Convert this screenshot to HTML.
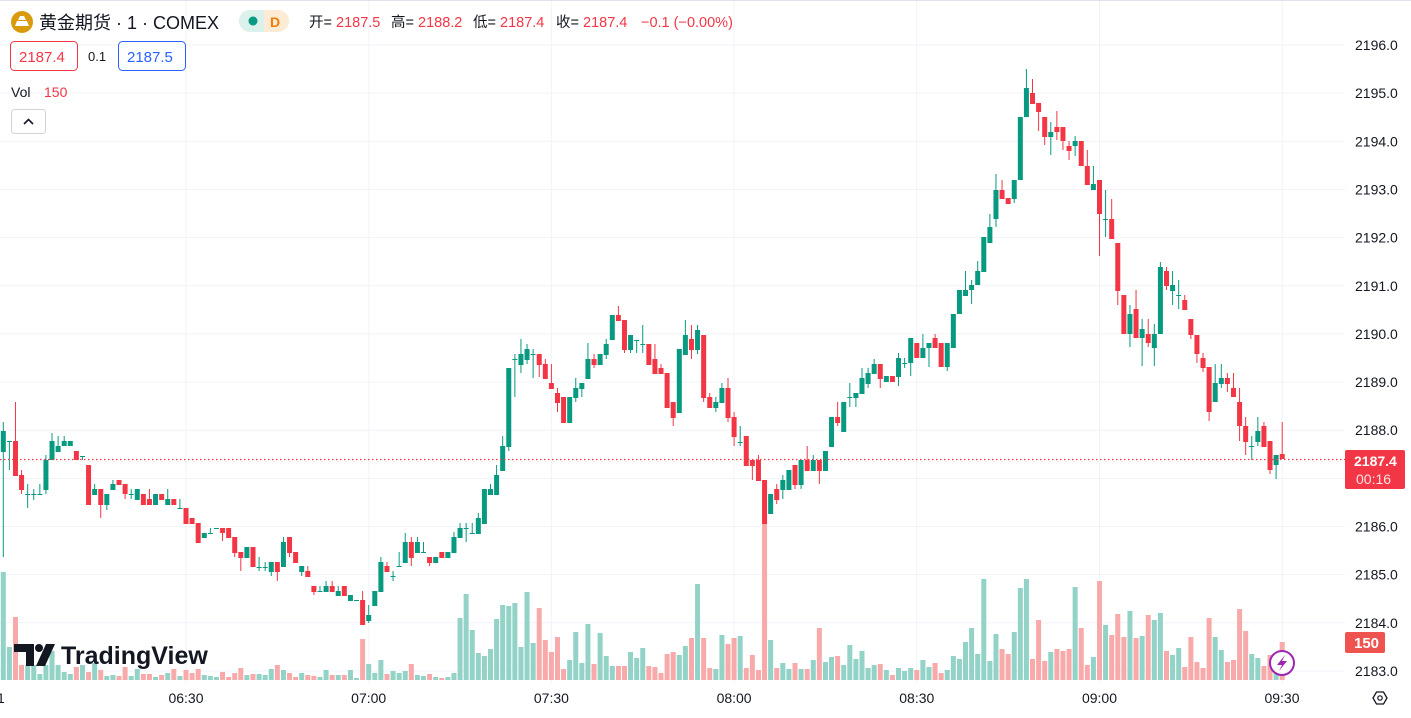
<!DOCTYPE html>
<html><head><meta charset="utf-8"><style>
html,body{margin:0;padding:0;background:#fff;}
body{width:1411px;height:718px;overflow:hidden;position:relative;font-family:"Liberation Sans","Noto Sans CJK SC",sans-serif;}
svg{position:absolute;left:0;top:0;}
.t{font-family:"Liberation Sans","Noto Sans CJK SC",sans-serif;}
</style></head><body>
<svg id="c" width="1411" height="718" xmlns="http://www.w3.org/2000/svg"></svg>
<script>
const D=[
[452,431,422,557],[441,441,441,470],[441,476,402,476],[475,490,470,494],[494,494,484,508],[494,494,489,500],[494,494,484,494],[490,460,455,494],[460,441,433,460],[452,446,436,452],
[446,441,436,446],[446,441,441,446],[451,460,451,460],[456,456,456,460],[465,505,465,505],[495,489,484,495],[489,505,489,518],[505,494,494,510],[490,484,480,490],[480,485,480,485],
[484,494,484,499],[494,494,489,499],[500,489,489,500],[494,505,494,505],[499,505,489,505],[505,494,494,505],[494,500,494,500],[505,499,489,505],[499,505,499,505],[508,508,499,508],
[508,524,508,524],[518,524,518,524],[523,543,523,543],[538,533,533,538],[533,533,528,533],[528,528,528,528],[528,533,528,541],[528,538,528,538],[537,553,537,557],[552,558,552,571],
[558,547,547,558],[547,567,547,567],[567,567,557,571],[567,567,562,571],[572,562,562,576],[562,572,562,581],[567,542,537,567],[537,553,537,557],[552,563,552,563],[572,566,566,576],
[571,577,566,577],[586,592,586,595],[591,591,586,591],[592,586,581,592],[586,592,581,592],[596,591,586,596],[586,596,586,596],[601,595,595,601],[600,600,600,600],[600,625,591,625],
[621,615,605,623],[606,591,591,606],[592,562,557,592],[566,572,562,572],[576,576,571,581],[566,566,552,566],[563,542,533,563],[542,558,537,566],[553,542,537,553],[552,552,542,552],
[557,563,557,566],[563,557,557,563],[552,558,552,558],[558,552,552,558],[553,537,532,553],[538,528,523,538],[528,528,523,542],[533,533,523,533],[534,518,513,534],[524,489,489,524],
[495,489,484,495],[495,475,465,495],[471,446,436,471],[447,368,368,451],[359,359,354,397],[365,354,339,373],[360,349,344,364],[354,354,349,378],[354,365,354,377],[364,379,359,379],
[383,389,364,389],[393,403,388,412],[397,423,397,423],[423,397,397,423],[398,388,378,402],[389,383,383,397],[379,359,343,379],[359,365,354,368],[365,354,354,365],[355,344,339,359],
[340,315,315,340],[315,321,306,321],[320,350,320,353],[350,335,335,353],[340,340,340,353],[344,344,325,353],[344,365,344,365],[359,374,344,374],[368,374,364,374],[373,408,373,408],
[402,418,402,426],[413,349,349,413],[355,335,320,355],[339,350,325,359],[350,330,325,354],[335,398,335,402],[397,408,393,408],[408,402,397,412],[403,388,383,403],[388,418,378,422],
[417,437,412,446],[442,442,426,446],[436,466,436,466],[460,466,460,480],[460,481,455,481],[480,524,480,524],[514,494,494,514],[489,500,484,504],[490,480,475,499],[490,470,470,490],
[465,485,465,489],[485,460,460,489],[460,471,446,471],[471,460,455,471],[460,471,460,484],[471,451,451,471],[447,417,417,447],[417,423,402,426],[432,402,402,432],[397,397,383,407],
[398,393,393,407],[394,378,368,394],[384,373,368,388],[374,364,359,374],[364,379,364,388],[382,376,376,382],[376,382,376,382],[377,358,353,386],[363,363,358,368],[363,338,338,376],
[343,358,343,358],[358,348,334,358],[348,343,343,367],[338,348,334,348],[343,367,343,367],[367,343,343,371],[348,314,314,348],[314,290,290,314],[296,290,271,296],[290,285,280,304],
[285,271,261,285],[272,237,237,272],[243,227,214,243],[219,190,174,227],[190,199,180,199],[198,204,198,204],[199,180,180,203],[180,117,117,180],[117,88,69,117],[93,104,79,104],
[103,112,103,131],[117,137,117,145],[137,132,122,155],[127,132,111,140],[127,141,127,150],[146,151,141,160],[146,141,136,156],[141,166,141,166],[166,185,150,185],[190,184,166,190],
[180,214,180,256],[219,219,190,237],[219,239,199,239],[243,291,243,305],[295,334,295,334],[334,314,305,347],[309,338,290,338],[338,329,319,366],[334,343,319,347],[348,334,324,366],
[334,267,262,334],[271,286,267,290],[291,285,271,305],[295,295,280,309],[300,310,295,310],[319,335,319,339],[335,354,335,363],[358,368,353,372],[367,412,367,421],[402,383,364,402],
[384,378,364,388],[378,384,373,392],[388,397,373,397],[402,426,388,441],[426,442,417,455],[446,446,436,460],[442,431,417,446],[426,447,422,447],[441,470,441,474],[465,455,455,479],
[454,459,422,459]];
const G=new Set([0,1,4,5,6,7,8,9,10,11,13,15,17,18,21,22,25,27,29,33,34,35,40,42,43,44,46,49,52,53,55,57,58,60,61,62,64,65,66,68,69,71,73,74,75,76,77,78,79,80,81,82,83,84,85,86,87,93,94,95,96,98,99,100,103,104,105,111,112,114,117,118,121,126,128,129,131,133,135,136,138,139,140,141,142,143,145,147,148,149,151,152,155,156,157,158,159,160,161,162,163,166,167,168,172,176,179,181,185,187,189,190,192,193,199,200,205,206,209]);
const V=[572,647,617,665,665,665,674,665,651,665,672,674,667,665,672,663,670,676,675,676,667,676,669,674,674,677,675,673,669,676,670,673,669,675,676,677,672,677,673,668,
675,674,674,675,669,665,670,673,677,673,675,676,677,670,675,675,675,670,678,639,664,673,660,674,671,673,671,664,675,676,674,677,678,677,673,618,594,630,653,656,
649,619,605,606,603,647,592,643,608,640,652,637,669,660,632,663,624,664,633,656,666,666,666,652,658,648,666,667,673,654,652,655,646,638,584,638,668,669,635,644,
638,636,668,655,670,524,640,668,663,669,663,669,669,660,628,662,657,656,665,645,659,651,668,665,664,670,675,668,671,668,670,660,667,663,673,670,656,659,642,628,
654,579,661,634,649,654,632,588,579,659,620,661,652,649,651,649,587,628,665,657,581,625,635,614,637,611,638,636,615,620,613,651,655,648,667,637,662,668,618,637,
650,662,660,609,631,654,658,666,655,668,642];
const NS="http://www.w3.org/2000/svg";
const svg=document.getElementById('c');
function el(n,a,txt){const e=document.createElementNS(NS,n);for(const k in a)e.setAttribute(k,a[k]);if(txt!==undefined)e.textContent=txt;svg.appendChild(e);return e;}
for(let k=0;k<=13;k++){const y=45+48.15*k;el('line',{x1:0,x2:1345,y1:y,y2:y,stroke:'#f0f3fa','stroke-width':1});}
for(let k=0;k<=6;k++){const x=186+182.7*k;el('line',{x1:x,x2:x,y1:0,y2:683,stroke:'#f0f3fa','stroke-width':1});}
el('line',{x1:0,x2:1411,y1:0.5,y2:0.5,stroke:'#e0e3eb'});
for(let i=0;i<D.length;i++){const x=3.3+6.09*i;const h=680-V[i];
el('rect',{x:x-2.5,y:V[i],width:5,height:h,fill:G.has(i)?'#92d2c7':'#f8a9a9'});}
for(let i=0;i<D.length;i++){const [o,c,h,l]=D[i];const x=3.3+6.09*i;const col=G.has(i)?'#089981':'#f23645';
el('line',{x1:x,x2:x,y1:h,y2:l,stroke:col,'stroke-width':1});
const top=Math.min(o,c),bh=Math.max(1,Math.abs(o-c));
el('rect',{x:x-2.5,y:top,width:5,height:bh,fill:col});}
el('line',{x1:0,x2:1345,y1:459.5,y2:459.5,stroke:'#f23645','stroke-width':1.3,'stroke-dasharray':'1.5 2.5'});
const P=['2196.0','2195.0','2194.0','2193.0','2192.0','2191.0','2190.0','2189.0','2188.0','2187.0','2186.0','2185.0','2184.0','2183.0'];
P.forEach((p,k)=>{if(p==='2187.0')return;el('text',{x:1355,y:45+48.15*k+5,'font-size':'14',fill:'#131722',class:'t'},p);});
el('rect',{x:1345,y:450,width:60,height:39,rx:2,fill:'#f23645'});
el('text',{x:1354,y:466,'font-size':'14','font-weight':'bold',fill:'#fff',class:'t'},'2187.4');
el('text',{x:1356,y:484,'font-size':'14',fill:'#fde3e5',class:'t'},'00:16');
el('rect',{x:1345,y:632,width:40,height:21,rx:2,fill:'#ef5350'});
el('text',{x:1354,y:648,'font-size':'15','font-weight':'bold',fill:'#fff',class:'t'},'150');
[['06:30',186],['07:00',368.7],['07:30',551.4],['08:00',734.1],['08:30',916.8],['09:00',1099.5],['09:30',1282]].forEach(([t,x])=>{el('text',{x:x,y:703,'font-size':'14',fill:'#131722','text-anchor':'middle',class:'t'},t);});
el('text',{x:-3,y:703,'font-size':'14',fill:'#131722',class:'t'},'1');
el('polygon',{points:'1373,698 1376.5,692 1383.5,692 1387,698 1383.5,704 1376.5,704',fill:'none',stroke:'#131722','stroke-width':1.3});
el('circle',{cx:1380,cy:698,r:2.2,fill:'none',stroke:'#131722','stroke-width':1.2});
el('circle',{cx:1282,cy:663,r:12,fill:'#fff',stroke:'#9c27b0','stroke-width':2});
el('path',{d:'M1285 655 L1277 665 L1282 665 L1279 671 L1287 661 L1282 661 Z',fill:'#9c27b0'});
el('path',{d:'M14 644 H34 V666 H26 V652 H14 Z',fill:'#131722'});
el('circle',{cx:39,cy:648,r:4,fill:'#131722'});
el('path',{d:'M46 644 H55 L45 666 H36 Z',fill:'#131722'});
el('text',{x:61,y:664,'font-size':'25','font-weight':'bold',fill:'#131722',class:'t'},'TradingView');
el('circle',{cx:22,cy:22,r:11,fill:'#d99a0c'});
el('path',{d:'M15 26 L17 21 H27 L29 26 Z M18 20 L20 16 H24 L26 20 Z',fill:'#fff'});
el('text',{x:39,y:29,'font-size':'18',fill:'#131722',class:'t'},'黄金期货 · 1 · COMEX');
el('rect',{x:239,y:10,width:50,height:22,rx:11,fill:'#fdebd6'});
el('path',{d:'M250 10 H264 V32 H250 A11 11 0 0 1 250 10 Z',fill:'#dbf1ec'});
el('circle',{cx:253,cy:21,r:4.5,fill:'#089981'});
el('text',{x:270,y:27,'font-size':'14','font-weight':'bold',fill:'#f57c00',class:'t'},'D');
const hdr=[['开=',309,'#131722'],['2187.5',336,'#f23645'],['高=',391,'#131722'],['2188.2',418,'#f23645'],['低=',473,'#131722'],['2187.4',500,'#f23645'],['收=',556,'#131722'],['2187.4',583,'#f23645'],['−0.1 (−0.00%)',641,'#f23645']];
hdr.forEach(([t,x,c])=>el('text',{x:x,y:27,'font-size':'14.5',fill:c,class:'t'},t));
el('rect',{x:10.5,y:41.5,width:67,height:29,rx:4,fill:'#fff',stroke:'#f23645'});
el('text',{x:19,y:62,'font-size':'15',fill:'#f23645',class:'t'},'2187.4');
el('text',{x:88,y:61,'font-size':'13',fill:'#131722',class:'t'},'0.1');
el('rect',{x:118.5,y:41.5,width:67,height:29,rx:4,fill:'#fff',stroke:'#2962ff'});
el('text',{x:127,y:62,'font-size':'15',fill:'#2962ff',class:'t'},'2187.5');
el('text',{x:11,y:97,'font-size':'14',fill:'#131722',class:'t'},'Vol');
el('text',{x:44,y:97,'font-size':'14',fill:'#f23645',class:'t'},'150');
el('rect',{x:11.5,y:109.5,width:34,height:24,rx:3,fill:'#fff',stroke:'#d1d4dc'});
el('path',{d:'M24 124 L28.5 119.5 L33 124',fill:'none',stroke:'#131722','stroke-width':1.6});
</script>
</body></html>
